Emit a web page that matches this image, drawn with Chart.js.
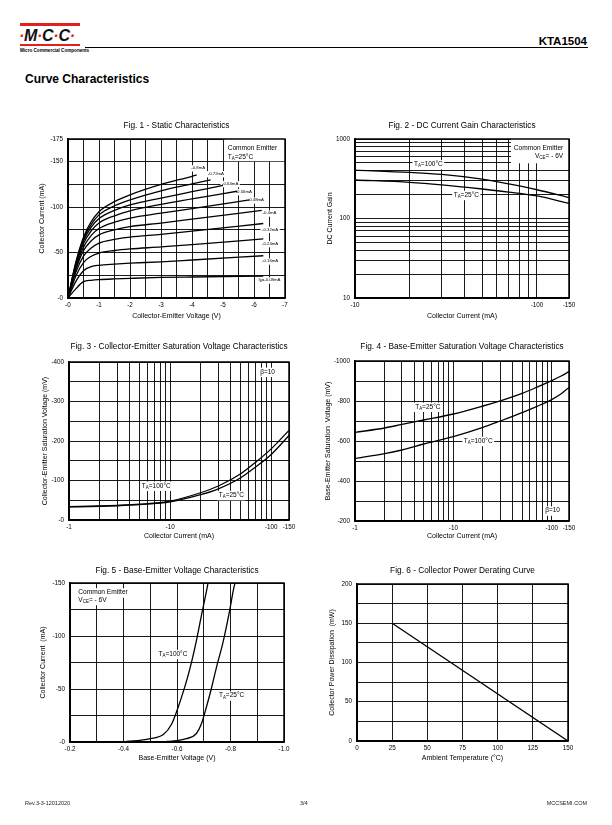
<!DOCTYPE html>
<html>
<head>
<meta charset="utf-8">
<title>KTA1504 - Curve Characteristics</title>
<script src="https://cdn.jsdelivr.net/npm/chart.js@4.4.0/dist/chart.umd.min.js"></script>
<style>
  html, body { margin: 0; padding: 0; background: #fff; }
  body { width: 612px; height: 825px; position: relative; overflow: hidden;
         font-family: "Liberation Sans", Arial, sans-serif; color: #000; }
  canvas.fig { position: absolute; left: 0; top: 0; }
  .abs { position: absolute; white-space: nowrap; }
  .bar { position: absolute; left: 20px; width: 60px; height: 2.5px; background: #e2211c; }
  .mcc { left: 19px; top: 27px; font-size: 16px; line-height: 17px; font-weight: bold; font-style: italic; color: #111; letter-spacing: -0.3px; }
  .mcc span { color: #e2211c; }
  .mcc-sub { left: 20px; top: 47.5px; font-size: 4.6px; line-height: 5px; font-weight: bold; }
  .rule { position: absolute; left: 85px; top: 47px; width: 503px; height: 1px; background: #000; }
  .part { right: 25px; top: 35px; font-size: 11.5px; line-height: 12px; font-weight: bold; }
  .heading { left: 25px; top: 72px; font-size: 12px; line-height: 14px; font-weight: bold; }
  .foot { top: 800px; font-size: 5.5px; line-height: 6px; color: #222; }
</style>
</head>
<body>

<div class="bar" style="top:23px"></div>
<div class="abs mcc"><span>·</span>M<span>·</span>C<span>·</span>C<span>·</span></div>
<div class="bar" style="top:43.5px"></div>
<div class="abs mcc-sub">Micro Commercial Components</div>
<div class="rule"></div>
<div class="abs part">KTA1504</div>
<div class="abs heading">Curve Characteristics</div>

<canvas class="fig" id="fig1" width="612" height="825"></canvas>
<canvas class="fig" id="fig2" width="612" height="825"></canvas>
<canvas class="fig" id="fig3" width="612" height="825"></canvas>
<canvas class="fig" id="fig4" width="612" height="825"></canvas>
<canvas class="fig" id="fig5" width="612" height="825"></canvas>
<canvas class="fig" id="fig6" width="612" height="825"></canvas>

<div class="abs foot" style="left:25px">Rev.3-3-12012020</div>
<div class="abs foot" style="left:300px">3/4</div>
<div class="abs foot" style="right:25px">MCCSEMI.COM</div>

<script>
// All currents / voltages below are magnitudes; the axes print them with a "-" sign
// like the datasheet does (PNP part).

// Fig. 1 - Static characteristics: Ic (mA) vs Vce (V) for each base current
const fig1BaseCurrents = ['-0.08mA', '-0.16mA', '-0.24mA', '-0.32mA', '-0.4mA',
                          '-0.48mA', '-0.56mA', '-0.64mA', '-0.72mA', '-0.8mA'];
const fig1Vce = [0, 0.25, 0.5, 0.75, 1, 1.5, 2, 3, 4];
const fig1Ic008 = [0, 10, 18, 19.5, 20.2, 21, 21.6, 22.6, 23.1];
const fig1Ic016 = [0, 18, 30, 34.5, 36, 37.3, 38.3, 39.8, 41.8];
const fig1Ic024 = [0, 24, 39, 46, 49.5, 52.3, 54, 56.2, 58.8];
const fig1Ic032 = [0, 28, 46, 55, 60.5, 64.5, 67, 70, 73.6];
const fig1Ic040 = [0, 31, 52, 63, 69.5, 75, 78.5, 82.5, 86.8];
const fig1Ic048 = [0, 33, 56, 69, 76.5, 83.5, 88, 93.3, 98.4];
const fig1Ic056 = [0, 35, 60, 74, 82.5, 90.5, 96, 103, 109];
const fig1Ic064 = [0, 37, 63, 78, 87.5, 96.5, 102.5, 110, 117];
const fig1Ic072 = [0, 38, 65, 81, 91.5, 101.5, 108, 118, 125.5];
const fig1Ic080 = [0, 39, 67, 84, 95, 106, 113.5, 125, 134];
// where each curve stops
const fig1EndVce = [6.3, 6.3, 6.3, 6.3, 6.25, 5.85, 5.45, 5.0, 4.6, 4.15];
const fig1EndIc = [24, 46.5, 65, 82, 96.5, 108, 117.5, 124, 130, 135.5];

// Fig. 2 - DC current gain vs Ic (mA)
const fig2Ic = [10, 20, 30, 50, 70, 100, 150];
const fig2Hfe100C = [407, 380, 358, 312, 272, 230, 183];
const fig2Hfe25C = [305, 285, 265, 235, 215, 192, 155];

// Fig. 3 - Vce(sat) (mV) vs Ic (mA)
const fig3Ic = [1, 2, 3, 5, 10, 20, 30, 50, 70, 100, 150];
const fig3Vce100C = [34, 35.5, 37, 40, 48, 69, 86, 117, 146, 180, 227];
const fig3Vce25C = [33, 34.5, 36, 39, 46, 64, 79, 107, 134, 166, 214];

// Fig. 4 - Vbe(sat) (mV) vs Ic (mA)
const fig4Ic = [1, 2, 3, 5, 10, 20, 30, 50, 70, 100, 125, 150];
const fig4Vbe25C = [643, 665, 683, 705, 735, 775, 801, 838, 868, 902, 925, 947];
const fig4Vbe100C = [513, 537, 555, 585, 622, 668, 700, 742, 772, 807, 836, 868];

// Fig. 5 - Ic (mA) vs Vbe (V)
const fig5Vbe100C = [0.41, 0.45, 0.5, 0.55, 0.58, 0.6, 0.623, 0.648, 0.672, 0.691, 0.71, 0.716];
const fig5Ic100C = [0.5, 1.2, 3.1, 7.2, 17, 29.7, 47, 69, 95, 119, 142, 150];
const fig5Vbe25C = [0.56, 0.6, 0.635, 0.672, 0.691, 0.71, 0.728, 0.747, 0.772, 0.796, 0.812, 0.817];
const fig5Ic25C = [0.5, 1.2, 3.1, 7.8, 17, 33, 50, 70, 94, 123, 145, 150];

// Fig. 6 - power derating
const fig6Temp = [25, 150];
const fig6Power = [150, 0];

// log-axis grid values and the ones that carry a label
const grid1to150 = [1, 2, 3, 4, 5, 6, 7, 8, 9, 10, 20, 30, 40, 50, 60, 70, 80, 90, 100, 150];
const grid10to150 = [10, 20, 30, 40, 50, 60, 70, 80, 90, 100, 150];
const grid10to1000 = [10, 20, 30, 40, 50, 60, 70, 80, 90, 100, 200, 300, 400, 500, 600, 700, 800, 900, 1000];
const labels1to150 = [1, 10, 100, 150];
const labels10to150 = [10, 100, 150];
const labels10to1000 = [10, 100, 1000];

const PAGE_W = 612, PAGE_H = 825;
const FONT = '"Liberation Sans", Arial, sans-serif';
const TITLE_SIZE = 8.3, AXIS_TITLE_SIZE = 7, TICK_SIZE = 6.3;

Chart.defaults.font.family = FONT;
Chart.defaults.color = '#000';

function pts(xs, ys) {
    return xs.map((x, i) => ({ x: x, y: ys[i] }));
}

// text with _{sub} parts, optional white patch behind it
function drawRich(ctx, text, px, py, align, size, bg) {
    const parts = [];
    text.split(/(_\{[^}]*\})/).forEach(s => {
        if (!s) return;
        if (s.startsWith('_{')) parts.push({ t: s.slice(2, -1), sub: true });
        else parts.push({ t: s, sub: false });
    });
    const subSize = size * 0.68;
    let w = 0;
    parts.forEach(p => {
        ctx.font = (p.sub ? subSize : size) + 'px ' + FONT;
        p.w = ctx.measureText(p.t).width;
        w += p.w;
    });
    let x0 = align === 'left' ? px : align === 'right' ? px - w : px - w / 2;
    if (bg) {
        ctx.fillStyle = '#fff';
        ctx.fillRect(x0 - 1.5, py - size * 0.65, w + 3, size * 1.45);
    }
    ctx.fillStyle = '#000';
    ctx.textAlign = 'left';
    ctx.textBaseline = 'middle';
    parts.forEach(p => {
        ctx.font = (p.sub ? subSize : size) + 'px ' + FONT;
        ctx.fillText(p.t, x0, py + (p.sub ? size * 0.3 : 0));
        x0 += p.w;
    });
}

// in-plot annotations + heavier frame
const notes = {
    id: 'notes',
    beforeDatasetsDraw(chart, args, opts) {
        const { ctx, scales: { x, y } } = chart;
        ctx.save();
        (opts.boxes || []).forEach(b => {
            const x0 = x.getPixelForValue(b.x0), x1 = x.getPixelForValue(b.x1);
            const y0 = y.getPixelForValue(b.y0), y1 = y.getPixelForValue(b.y1);
            ctx.fillStyle = '#fff';
            ctx.fillRect(Math.min(x0, x1), Math.min(y0, y1), Math.abs(x1 - x0), Math.abs(y1 - y0));
        });
        (opts.labels || []).forEach(l => {
            drawRich(ctx, l.text, x.getPixelForValue(l.x), y.getPixelForValue(l.y),
                     l.align || 'center', l.size || 6.5, l.bg !== false);
        });
        ctx.restore();
    },
    afterDraw(chart) {
        const { ctx, chartArea: a } = chart;
        ctx.save();
        ctx.strokeStyle = '#000';
        ctx.lineWidth = 1.5;
        ctx.strokeRect(a.left, a.top, a.right - a.left, a.bottom - a.top);
        ctx.restore();
    }
};

function axis(a, dir, size) {
    const o = {
        type: a.type || 'linear',
        min: a.min,
        max: a.max,
        title: { display: true, text: a.title, font: { size: AXIS_TITLE_SIZE }, color: '#000', padding: 0 },
        grid: { color: '#000', lineWidth: 0.9, drawTicks: false },
        border: { color: '#000', width: 1.5 },
        ticks: {
            autoSkip: false,
            maxRotation: 0,
            font: { size: TICK_SIZE },
            color: '#000',
            padding: dir === 'x' ? 3 : 5,
            callback: a.label
        },
        afterFit: s => {
            if (dir === 'x') s.height = size;
            else s.width = size;
        }
    };
    if (a.step) o.ticks.stepSize = a.step;
    if (a.grid) o.afterBuildTicks = s => { s.ticks = a.grid.map(v => ({ value: v })); };
    return o;
}

// f = plot box on the page plus where the titles sit
function makeFigure(id, f, spec) {
    const W = f.left - f.yTitleX + AXIS_TITLE_SIZE * 0.6;
    const H = f.xTitleY + AXIS_TITLE_SIZE * 0.6 - f.bottom;
    return new Chart(document.getElementById(id), {
        type: 'scatter',
        data: {
            datasets: spec.series.map(s => ({
                data: s,
                showLine: true,
                borderColor: '#000',
                borderWidth: 1.3,
                pointRadius: 0,
                fill: false,
                cubicInterpolationMode: spec.straight ? 'default' : 'monotone'
            }))
        },
        options: {
            responsive: false,
            animation: false,
            events: [],
            layout: {
                padding: {
                    top: f.titleY - TITLE_SIZE * 0.6,
                    left: f.left - W,
                    right: PAGE_W - f.right,
                    bottom: PAGE_H - f.bottom - H
                }
            },
            plugins: {
                legend: { display: false },
                tooltip: { enabled: false },
                title: {
                    display: true,
                    text: spec.title,
                    fullSize: false,
                    color: '#000',
                    font: { size: TITLE_SIZE, weight: 'normal' },
                    padding: { top: 0, bottom: f.top - f.titleY - TITLE_SIZE * 0.6 }
                },
                notes: { labels: spec.labels || [], boxes: spec.boxes || [] }
            },
            scales: {
                x: axis(spec.x, 'x', H),
                y: axis(spec.y, 'y', W)
            }
        },
        plugins: [notes]
    });
}

const neg = v => '-' + v;

// Fig. 1
const fig1Curves = [fig1Ic008, fig1Ic016, fig1Ic024, fig1Ic032, fig1Ic040,
                    fig1Ic048, fig1Ic056, fig1Ic064, fig1Ic072, fig1Ic080];
const fig1LabelPos = [[6.5, 19.6], [6.52, 40.5], [6.52, 59.6], [6.52, 75.4], [6.5, 93.3],
                      [6.06, 107.6], [5.67, 116.8], [5.23, 125.6], [4.77, 136.6], [4.2, 143]];
makeFigure('fig1',
    { left: 68, right: 285, top: 139, bottom: 298, titleY: 126, xTitleY: 316, yTitleX: 41.7 },
    {
        title: 'Fig. 1 - Static Characteristics',
        series: fig1Curves.map((c, i) => pts(fig1Vce, c).concat({ x: fig1EndVce[i], y: fig1EndIc[i] })),
        x: { min: 0, max: 7, step: 0.5, title: 'Collector-Emitter Voltage (V)',
             label: v => Number.isInteger(v) ? neg(v) : '' },
        y: { min: 0, max: 175, step: 25, title: 'Collector Current (mA)',
             label: v => (v % 50 === 0 || v === 175) ? neg(v) : '' },
        boxes: [{ x0: 5.05, x1: 7, y0: 150.5, y1: 175 }],
        labels: fig1BaseCurrents.map((t, i) => ({
            text: i === 0 ? 'I_{B}=' + t : t,
            x: fig1LabelPos[i][0], y: fig1LabelPos[i][1], size: 4.3
        })).concat([
            { text: 'Common Emitter', x: 5.15, y: 165, align: 'left', size: 6.6, bg: false },
            { text: 'T_{A}=25°C', x: 5.15, y: 155.5, align: 'left', size: 6.6, bg: false }
        ])
    });

// Fig. 2
makeFigure('fig2',
    { left: 355, right: 569, top: 139, bottom: 298, titleY: 126, xTitleY: 316, yTitleX: 330 },
    {
        title: 'Fig. 2 - DC Current Gain Characteristics',
        series: [pts(fig2Ic, fig2Hfe100C), pts(fig2Ic, fig2Hfe25C)],
        x: { type: 'logarithmic', min: 10, max: 150, grid: grid10to150, title: 'Collector Current (mA)',
             label: v => labels10to150.includes(v) ? neg(v) : '' },
        y: { type: 'logarithmic', min: 10, max: 1000, grid: grid10to1000, title: 'DC Current Gain',
             label: v => labels10to1000.includes(v) ? String(v) : '' },
        boxes: [{ x0: 72, x1: 150, y0: 495, y1: 1000 }],
        labels: [
            { text: 'Common Emitter', x: 139.5, y: 764, align: 'right', size: 6.6, bg: false },
            { text: 'V_{CE}= - 6V', x: 139.5, y: 611, align: 'right', size: 6.6, bg: false },
            { text: 'T_{A}=100°C', x: 25.3, y: 481 },
            { text: 'T_{A}=25°C', x: 40.9, y: 197.5 }
        ]
    });

// Fig. 3
makeFigure('fig3',
    { left: 69, right: 289, top: 362, bottom: 520, titleY: 347, xTitleY: 536.5, yTitleX: 45 },
    {
        title: 'Fig. 3 - Collector-Emitter Saturation Voltage Characteristics',
        series: [pts(fig3Ic, fig3Vce100C), pts(fig3Ic, fig3Vce25C)],
        x: { type: 'logarithmic', min: 1, max: 150, grid: grid1to150, title: 'Collector Current (mA)',
             label: v => labels1to150.includes(v) ? neg(v) : '' },
        y: { min: 0, max: 400, step: 50, title: 'Collector-Emitter Saturation Voltage (mV)',
             label: v => v % 100 === 0 ? neg(v) : '' },
        labels: [
            { text: 'β=10', x: 92, y: 375 },
            { text: 'T_{A}=100°C', x: 7.3, y: 86.7 },
            { text: 'T_{A}=25°C', x: 40.4, y: 63 }
        ]
    });

// Fig. 4
makeFigure('fig4',
    { left: 355, right: 569, top: 361, bottom: 521, titleY: 347, xTitleY: 536.5, yTitleX: 328.5 },
    {
        title: 'Fig. 4 - Base-Emitter Saturation Voltage Characteristics',
        series: [pts(fig4Ic, fig4Vbe25C), pts(fig4Ic, fig4Vbe100C)],
        x: { type: 'logarithmic', min: 1, max: 150, grid: grid1to150, title: 'Collector Current (mA)',
             label: v => labels1to150.includes(v) ? neg(v) : '' },
        y: { min: 200, max: 1000, step: 100, title: 'Base-Emitter Saturation  Voltage (mV)',
             label: v => v % 200 === 0 ? neg(v) : '' },
        labels: [
            { text: 'T_{A}=25°C', x: 5.5, y: 771 },
            { text: 'T_{A}=100°C', x: 17.9, y: 600 },
            { text: 'β=10', x: 102, y: 252 }
        ]
    });

// Fig. 5
makeFigure('fig5',
    { left: 70, right: 284, top: 583, bottom: 742, titleY: 571, xTitleY: 758.5, yTitleX: 43.5 },
    {
        title: 'Fig. 5 - Base-Emitter Voltage Characteristics',
        series: [pts(fig5Vbe100C, fig5Ic100C), pts(fig5Vbe25C, fig5Ic25C)],
        x: { min: 0.2, max: 1.0, step: 0.1, title: 'Base-Emitter Voltage (V)',
             label: v => Math.round(v * 10) % 2 === 0 ? '-' + v.toFixed(1) : '' },
        y: { min: 0, max: 150, step: 25, title: 'Collector Current  (mA)',
             label: v => v % 50 === 0 ? neg(v) : '' },
        labels: [
            { text: 'Common Emitter', x: 0.231, y: 141, align: 'left', size: 6.6 },
            { text: 'V_{CE}= - 6V', x: 0.231, y: 134, align: 'left', size: 6.6 },
            { text: 'T_{A}=100°C', x: 0.585, y: 83 },
            { text: 'T_{A}=25°C', x: 0.804, y: 43.7 }
        ]
    });

// Fig. 6
makeFigure('fig6',
    { left: 357, right: 568, top: 584, bottom: 741, titleY: 571, xTitleY: 758.5, yTitleX: 331.7 },
    {
        title: 'Fig. 6 - Collector Power Derating Curve',
        straight: true,
        series: [pts(fig6Temp, fig6Power)],
        x: { min: 0, max: 150, step: 25, title: 'Ambient Temperature (°C)',
             label: v => String(v) },
        y: { min: 0, max: 200, step: 25, title: 'Collector Power Dissipation  (mW)',
             label: v => v % 50 === 0 ? String(v) : '' }
    });
</script>
</body>
</html>
